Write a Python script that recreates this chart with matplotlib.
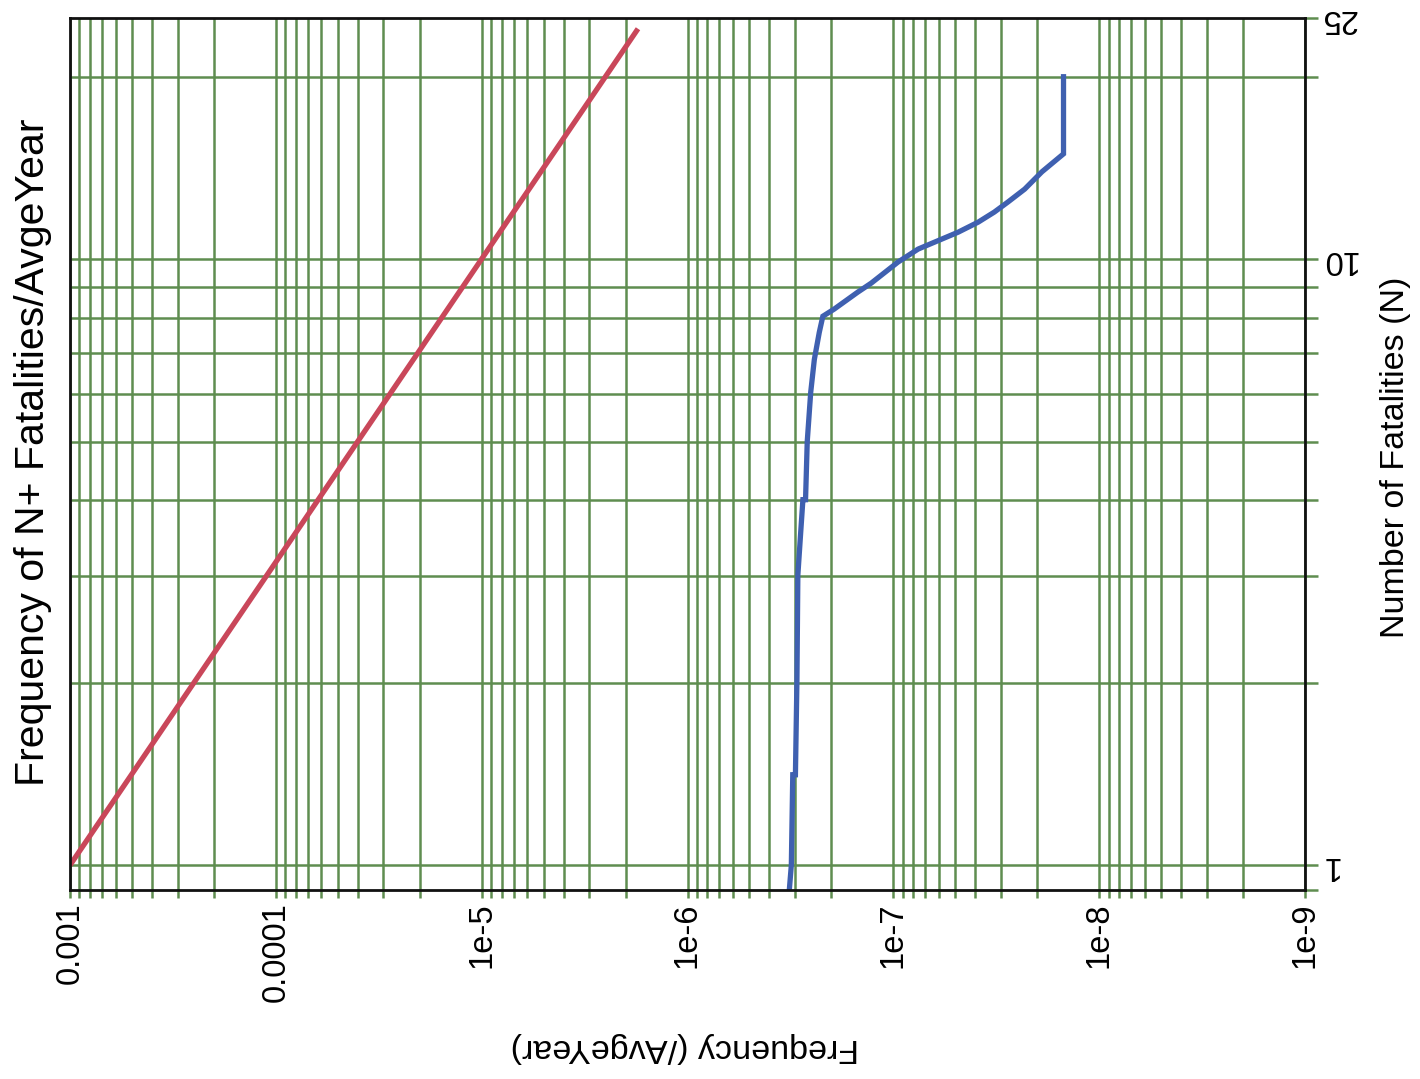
import matplotlib
matplotlib.use("Agg")
import matplotlib.pyplot as plt
from matplotlib import font_manager
from matplotlib.ticker import FixedLocator, NullFormatter

# F-N curve: cumulative frequency of N or more fatalities per average year
fn_fatalities = [0.9, 1.0, 1.41, 1.41, 2.02, 3.01, 3.47, 4.01, 4.01, 5.0, 6.03, 6.83,
                 7.57, 8.05, 8.27, 8.82, 9.13, 9.89, 10.39, 11.08, 11.51, 11.96,
                 12.43, 13.05, 13.93, 14.92, 20.0]
fn_frequency = [3.21e-7, 3.13e-7, 3.08e-7, 2.99e-7, 2.94e-7, 2.91e-7, 2.83e-7, 2.75e-7,
                2.67e-7, 2.62e-7, 2.52e-7, 2.42e-7, 2.29e-7, 2.20e-7, 1.94e-7, 1.49e-7,
                1.28e-7, 9.49e-8, 7.58e-8, 4.84e-8, 3.87e-8, 3.23e-8, 2.77e-8, 2.30e-8,
                1.90e-8, 1.49e-8, 1.49e-8]

# Criterion line F = 1e-3 / N^2
crit_fatalities = [1.0, 24.0]
crit_frequency = [1.0e-3, 1.74e-6]

freq_ticks = [1e-3, 1e-4, 1e-5, 1e-6, 1e-7, 1e-8, 1e-9]
freq_labels = ["0.001", "0.0001", "1e-5", "1e-6", "1e-7", "1e-8", "1e-9"]
n_grid = [1, 2, 3, 4, 5, 6, 7, 8, 9, 10, 20]
n_ticks = [0.91, 1, 2, 3, 4, 5, 6, 7, 8, 9, 10, 20, 25]
n_labeled = {1: "1", 10: "10", 25: "25"}

GRID = "#5f8d50"
RED = "#c9475a"
BLUE = "#3f60b0"

names = {f.name for f in font_manager.fontManager.ttflist}
if "Liberation Sans Narrow" in names:
    tick_family, tick_size = "Liberation Sans Narrow", 26
else:
    tick_family, tick_size = "Liberation Sans", 23.5
label_family = "Liberation Sans"

fig = plt.figure(figsize=(14.2, 10.79), dpi=100)
ax = fig.add_axes([70 / 1420, 1 - 890 / 1079, (1305 - 70) / 1420, (890 - 18) / 1079])

ax.set_xscale("log")
ax.set_yscale("log")
ax.set_xlim(1e-3, 1e-9)
ax.set_ylim(0.91, 25)

# frequency axis: every decade and its 2..9 subdivisions
minor_x = [m * 10.0 ** e for e in range(-9, -3) for m in range(2, 10)]
ax.xaxis.set_major_locator(FixedLocator(freq_ticks))
ax.xaxis.set_minor_locator(FixedLocator(minor_x))
ax.set_xticklabels(freq_labels, rotation=90, family=tick_family, fontsize=tick_size)
ax.xaxis.set_minor_formatter(NullFormatter())

# fatalities axis on the right
ax.yaxis.set_major_locator(FixedLocator(n_ticks))
ax.yaxis.set_minor_locator(FixedLocator([]))
ax.yaxis.tick_right()
ax.set_yticklabels([n_labeled.get(v, "") for v in n_ticks], rotation=180,
                   family=tick_family, fontsize=tick_size, va="center")

ax.tick_params(axis="x", which="both", direction="out", length=6, width=1.8,
               color=GRID, pad=3)
ax.tick_params(axis="y", which="both", direction="out", length=9.5, width=1.8,
               color=GRID, pad=1.5)

for v in minor_x + freq_ticks:
    ax.axvline(v, color=GRID, lw=1.8, zorder=1)
for n in n_grid:
    ax.axhline(n, color=GRID, lw=1.8, zorder=1)

for s in ax.spines.values():
    s.set_linewidth(2.0)
    s.set_color("#111111")
    s.set_zorder(5)

ax.plot(crit_frequency, crit_fatalities, color=RED, lw=3.8, zorder=3,
        solid_capstyle="butt")
ax.plot(fn_frequency, fn_fatalities, color=BLUE, lw=3.8, zorder=3,
        solid_joinstyle="miter")

fig.text(0.023, 0.581, "Frequency of N+ Fatalities/AvgeYear", rotation=90,
         ha="center", va="center", family=label_family, fontsize=29.5)
fig.text(0.983, 0.576, "Number of Fatalities (N)", rotation=90,
         ha="center", va="center", family=label_family, fontsize=24.5)
fig.text(0.482, 0.029, "Frequency (/AvgeYear)", rotation=180,
         ha="center", va="center", family=label_family, fontsize=24.5)

fig.savefig("out.png", dpi=100, facecolor="white")
